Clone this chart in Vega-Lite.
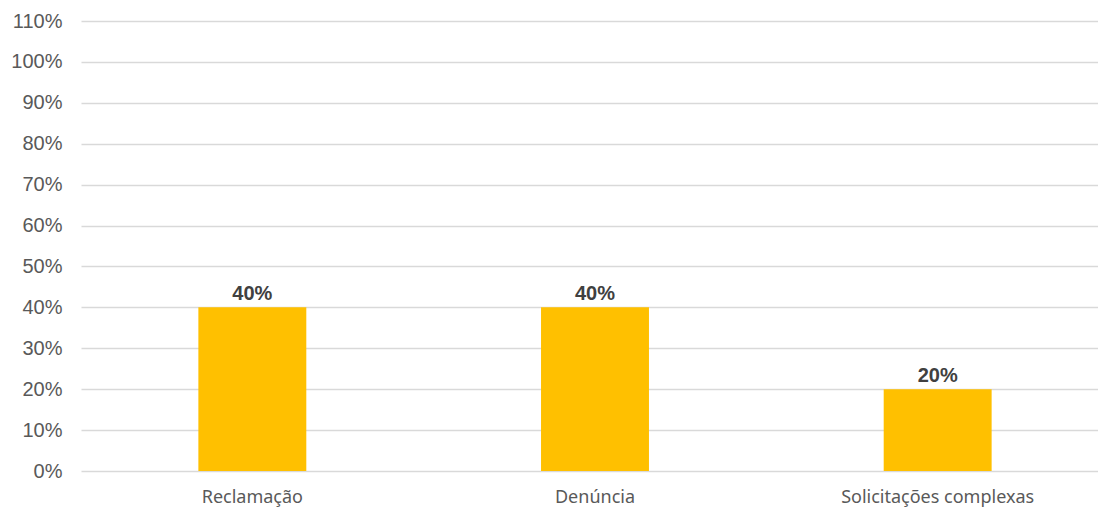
{
  "$schema": "https://vega.github.io/schema/vega-lite/v6.json",
  "width": 1028,
  "height": 450,
  "autosize": {"type": "none"},
  "padding": {"left": 81, "top": 21, "right": 0, "bottom": 40},
  "background": "white",
  "config": {"view": {"stroke": null}},
  "data": {
    "values": [
      {"categoria": "Reclamação", "valor": 0.4},
      {"categoria": "Denúncia", "valor": 0.4},
      {"categoria": "Solicitações complexas", "valor": 0.2}
    ]
  },
  "encoding": {
    "x": {
      "field": "categoria",
      "type": "nominal",
      "sort": null,
      "scale": {"paddingInner": 0.685, "paddingOuter": 0.3425},
      "axis": {
        "title": null,
        "labelAngle": 0,
        "ticks": false,
        "domain": false,
        "labelPadding": 17,
        "labelLimit": 0,
        "labelFont": "Noto Sans",
        "labelFontSize": 18,
        "labelColor": "#595959",
        "labelBaseline": "top"
      }
    },
    "y": {
      "field": "valor",
      "type": "quantitative",
      "scale": {"domain": [0, 1.1], "nice": false},
      "axis": {
        "title": null,
        "format": ".0%",
        "values": [0, 0.1, 0.2, 0.3, 0.4, 0.5, 0.6, 0.7, 0.8, 0.9, 1.0, 1.1],
        "ticks": false,
        "domain": false,
        "labelPadding": 19,
        "labelFont": "Liberation Sans",
        "labelFontSize": 20,
        "labelColor": "#595959",
        "gridColor": "#D9D9D9",
        "gridWidth": 1.3
      }
    }
  },
  "layer": [
    {"mark": {"type": "bar", "color": "#FFC000"}},
    {
      "mark": {
        "type": "text",
        "font": "Liberation Sans",
        "fontWeight": "bold",
        "fontSize": 20,
        "color": "#404040",
        "baseline": "alphabetic",
        "dy": -7
      },
      "encoding": {"text": {"field": "valor", "type": "quantitative", "format": ".0%"}}
    }
  ]
}
